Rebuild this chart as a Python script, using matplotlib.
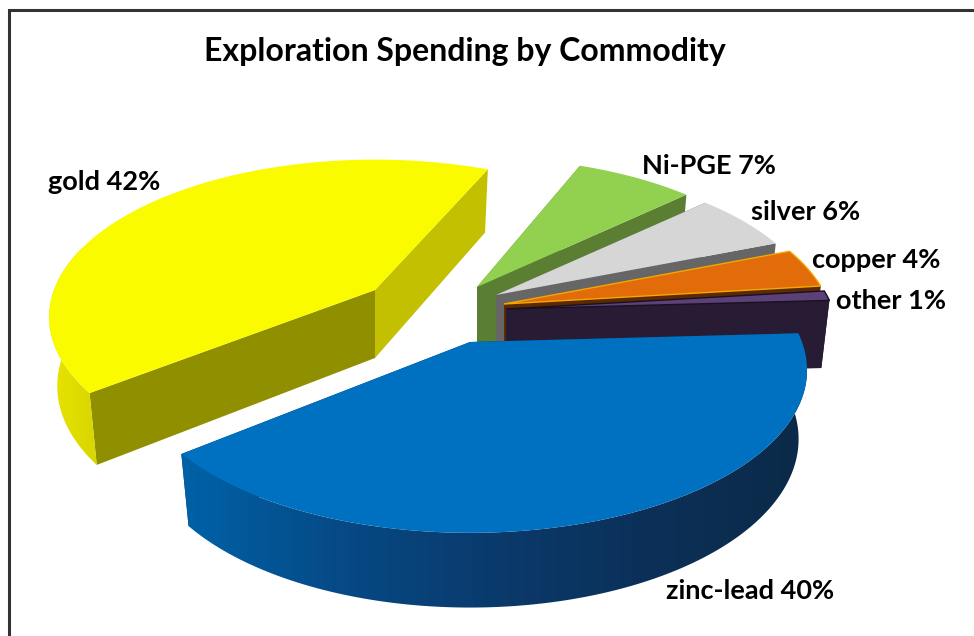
import numpy as np
import matplotlib.pyplot as plt
from matplotlib.patches import Polygon
from matplotlib.colors import LinearSegmentedColormap

# Spending share by commodity (%), clockwise from the start angle
commodities = ["Ni-PGE", "silver", "copper", "other", "zinc-lead", "gold"]
shares = [7, 6, 4, 1, 40, 42]
title = "Exploration Spending by Commodity"

# Styles
top_colors = ["#92d050", "#d6d6d6", "#e26b0a", "#5b4178", "#0070c0", "#fbfb00"]
start_face = ["#5a7f33", "#666666", "#5a2a05", "#271c33", "#0a3560", "#908f00"]
end_face = ["#5a7f33", "#666666", "#5a2a05", "#271c33", "#0a3560", "#c2c000"]
edge_colors = ["none", "none", "#f5a800", "#1a1020", "none", "none"]
side_colors = [
    ["#5a7f33", "#5a7f33"],
    ["#666666", "#666666"],
    ["#5a2a05", "#5a2a05"],
    ["#271c33", "#271c33"],
    ["#0062a8", "#064a86", "#0a3a6c", "#0b3058", "#0c2a48"],
    ["#e8e400", "#d8d600"],
]
# Where each exploded slice has its tip, in pixels of the figure
tip_x = [477, 496, 504, 506, 470, 375]
tip_y = [287, 295, 304, 309, 342, 290]
radius = [0.96, 0.96, 0.98, 0.985, 1.0, 0.967]
turn = [0, 0, 0, 0, 0, -2]
draw_order = [5, 0, 1, 2, 3, 4]
label_x = [642, 751, 812, 836, 666, 48]
label_y = [165.5, 212.5, 260, 301, 591, 181.5]

start_angle = 68
rx, ry, tilt = 332, 158, 0.172
depth = 68

plt.rcParams["font.family"] = ["Lato", "DejaVu Sans"]
fig = plt.figure(figsize=(9.74, 6.36), dpi=100)
ax = fig.add_axes([0, 0, 1, 1])


def rim(theta, scale=1.0, lower=False):
    # perspective view of the circle; y grows downwards on screen
    t = np.radians(theta)
    w = 1 + tilt * np.sin(t)
    x = scale * rx * np.cos(t) / w
    y = -scale * ry * np.sin(t) / w
    if lower:
        return x * 0.975, y + depth / np.sqrt(w)
    return x, y


# slice angles from the shares
ends = start_angle - np.cumsum(shares) * 3.6 + np.array(turn)
starts = ends + np.array(shares) * 3.6

z = 1
for i in draw_order:
    cx, cy, s = tip_x[i], tip_y[i], radius[i]
    angles = np.linspace(starts[i], ends[i], 200)
    xt, yt = rim(angles, s)
    xb, yb = rim(angles, s, lower=True)
    xt, yt, xb, yb = xt + cx, yt + cy, xb + cx, yb + cy

    # the two cut faces
    for a, shade in [(starts[i], start_face[i]), (ends[i], end_face[i])]:
        x1, y1 = rim(a, s)
        x2, y2 = rim(a, s, lower=True)
        pts = [(cx, cy), (cx + x1, cy + y1), (cx + x2, cy + y2), (cx, cy + depth)]
        ax.add_patch(Polygon(pts, closed=True, fc=shade, ec="none", lw=0, zorder=z))
        z += 1

    # outer wall, only the part facing the viewer, shaded left to right
    near = np.sin(np.radians(angles)) < 0.3
    if near.any():
        wall = list(zip(xt[near], yt[near])) + list(zip(xb[near][::-1], yb[near][::-1]))
        clip = Polygon(wall, closed=True, fc="none", ec="none", transform=ax.transData)
        ax.add_patch(clip)
        cmap = LinearSegmentedColormap.from_list("side", side_colors[i])
        x0, x1 = min(xt[near].min(), xb[near].min()), max(xt[near].max(), xb[near].max())
        y0, y1 = min(yt[near].min(), yb[near].min()), max(yt[near].max(), yb[near].max())
        im = ax.imshow(np.linspace(0, 1, 256).reshape(1, -1), cmap=cmap, aspect="auto",
                       extent=[x0, x1, y1, y0], zorder=z)
        im.set_clip_path(clip)
        z += 1

    # top face
    top = [(cx, cy)] + list(zip(xt, yt))
    ax.add_patch(Polygon(top, closed=True, fc=top_colors[i], ec=edge_colors[i], lw=1.0, zorder=z))
    z += 1

ax.set_xlim(0, 974)
ax.set_ylim(636, 0)
ax.axis("off")

for name, share, lx, ly in zip(commodities, shares, label_x, label_y):
    ax.text(lx, ly, f"{name} {share}%", fontsize=19.5, fontweight="bold", color="black",
            ha="left", va="center", zorder=z)

ax.text(465, 52, title, fontsize=23, fontweight="bold", color="black", ha="center", va="center", zorder=z)

# frame of the chart area, cropped at the right and at the bottom
ax.plot([9, 9, 974], [636, 10, 10], color="#333333", lw=2.2, solid_joinstyle="miter", zorder=z)

fig.savefig("out.png", dpi=100)
